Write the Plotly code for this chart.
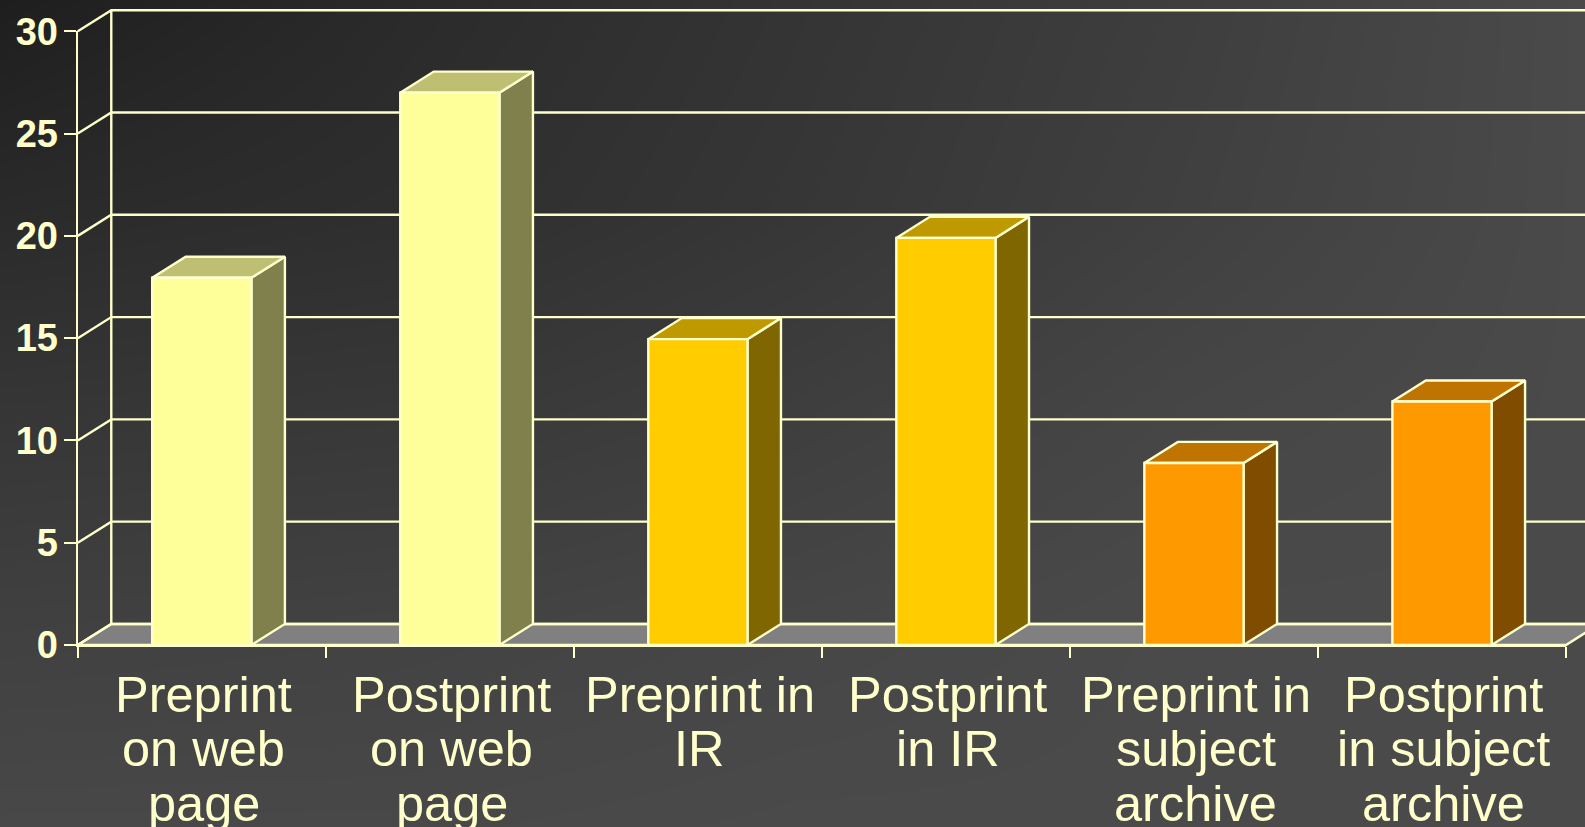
import plotly.graph_objects as go

categories = ["Preprint on web page", "Postprint on web page", "Preprint in IR",
              "Postprint in IR", "Preprint in subject archive", "Postprint in subject archive"]
label_lines = [["Preprint", "on web", "page"], ["Postprint", "on web", "page"], ["Preprint in", "IR"],
               ["Postprint", "in IR"], ["Preprint in", "subject", "archive"], ["Postprint", "in subject", "archive"]]
values = [17.95, 27, 14.95, 19.9, 8.9, 11.9]
front_colors = ["#FFFF99", "#FFFF99", "#FFCC00", "#FFCC00", "#FF9900", "#FF9900"]
top_colors = ["#BFBF73", "#BFBF73", "#BF9900", "#BF9900", "#BF7300", "#BF7300"]
side_colors = ["#80804D", "#80804D", "#806600", "#806600", "#804D00", "#804D00"]
y_ticks = [0, 5, 10, 15, 20, 25, 30]

# grey levels of the slide background, dark corner top left
background = [[0x1e, 0x2a, 0x34, 0x3e, 0x4a],
              [0x2a, 0x2e, 0x36, 0x40, 0x4a],
              [0x36, 0x38, 0x3e, 0x46, 0x4a],
              [0x40, 0x42, 0x46, 0x4a, 0x4a],
              [0x48, 0x48, 0x4a, 0x4a, 0x4a]]

ink = "#FFFFCC"
font = "Liberation Sans"
line_width = 2.4
bar_width = 0.4
depth_x = 0.135  # fake 3d depth, in axis units
depth_y = 1.03
x_min = -0.5
x_max = 5.5

# where the front plane of the chart sits on the page, in px
left_px, right_px, top_px, bottom_px = 77.8, 1566, 31.3, 645
page_w, page_h = 1585, 827
per_x = (x_max - x_min) / (right_px - left_px)
per_y = 30 / (bottom_px - top_px)

fig = go.Figure()
fig.add_trace(go.Heatmap(z=background, x=[0, 0.25, 0.5, 0.75, 1], y=[1, 0.75, 0.5, 0.25, 0],
                         zmin=0, zmax=255, zsmooth="best", showscale=False, hoverinfo="skip",
                         colorscale=[[0, "#000000"], [1, "#FFFFFF"]]))


# the 3d faces live on a full page axis pair, scatter lines get clipped to their subplot
def poly(xs, ys, fill=None):
    fig.add_trace(go.Scatter(x=xs, y=ys, xaxis="x2", yaxis="y2", mode="lines",
                             fill="toself" if fill else None, fillcolor=fill,
                             line=dict(color=ink, width=line_width), hoverinfo="skip", showlegend=False))


# floor
poly([x_min, x_max, x_max + depth_x, x_min + depth_x, x_min], [0, 0, depth_y, depth_y, 0], "#808080")

# back wall and the diagonals up to it
for v in y_ticks:
    poly([x_min, x_min + depth_x, x_max + depth_x], [v, v + depth_y, v + depth_y])
poly([x_min + depth_x, x_min + depth_x], [depth_y, 30 + depth_y])

# side and top faces
for i, v in enumerate(values):
    left = i - bar_width / 2
    right = i + bar_width / 2
    poly([right, right + depth_x, right + depth_x, right, right], [0, depth_y, v + depth_y, v, 0], side_colors[i])
    poly([left, right, right + depth_x, left + depth_x, left], [v, v, v + depth_y, v + depth_y, v], top_colors[i])

# front faces sit on the visible axes, a later subplot, bars would otherwise go under the scatter traces
fig.add_trace(go.Bar(x=list(range(len(values))), y=values, width=bar_width, xaxis="x3", yaxis="y3",
                     marker=dict(color=front_colors, line=dict(color=ink, width=line_width)),
                     text=categories, textposition="none", hoverinfo="text", showlegend=False))

for i, lines in enumerate(label_lines):
    for n, line in enumerate(lines):
        fig.add_annotation(text=line, x=i, y=0, xref="x3", yref="y3", xshift=2, yshift=-49 - 54.5 * n,
                           showarrow=False, xanchor="center", yanchor="middle",
                           font=dict(family=font, size=50.5, color=ink))

plot_x = [left_px / page_w, right_px / page_w]
plot_y = [(page_h - bottom_px) / page_h, (page_h - top_px) / page_h]
fig.update_layout(
    width=page_w, height=page_h, margin=dict(l=0, r=0, t=0, b=0), showlegend=False,
    paper_bgcolor="#3a3a3a", plot_bgcolor="rgba(0,0,0,0)",
    xaxis=dict(domain=[0, 1], range=[0, 1], visible=False, automargin=False),
    yaxis=dict(domain=[0, 1], range=[0, 1], visible=False, automargin=False),
    xaxis2=dict(domain=[0, 1], range=[x_min - left_px * per_x, x_max + (page_w - right_px) * per_x],
                anchor="y2", visible=False, automargin=False),
    yaxis2=dict(domain=[0, 1], range=[-(page_h - bottom_px) * per_y, 30 + top_px * per_y],
                anchor="x2", visible=False, automargin=False),
    xaxis3=dict(domain=plot_x, range=[x_min, x_max], anchor="y3", showgrid=False, zeroline=False,
                automargin=False, tickmode="array", tickvals=[x_min + k for k in range(7)], showticklabels=False,
                ticks="outside", ticklen=11, tickwidth=line_width, tickcolor=ink,
                showline=True, linecolor=ink, linewidth=line_width),
    yaxis3=dict(domain=plot_y, range=[0, 30], anchor="x3", showgrid=False, zeroline=False,
                automargin=False, tickmode="array", tickvals=y_ticks, ticks="outside", ticklen=12,
                tickwidth=line_width, tickcolor=ink, ticklabelstandoff=-2, showline=True, linecolor=ink,
                linewidth=line_width, tickfont=dict(family=font, size=38, color=ink, weight=700)),
)

fig.write_html("out.html", config=dict(displayModeBar=False), post_script="document.body.style.margin='0'")
